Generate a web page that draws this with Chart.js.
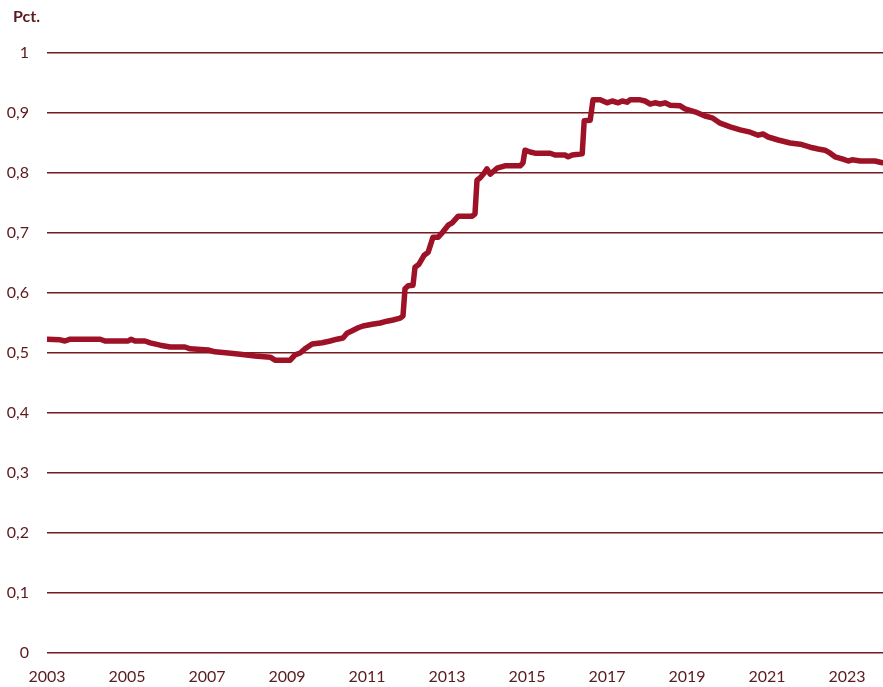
<!DOCTYPE html>
<html>
<head>
<meta charset="utf-8">
<script src="https://cdn.jsdelivr.net/npm/chart.js@4"></script>
<style>
  html, body { margin: 0; padding: 0; background: #fff; }
  #wrap { width: 883px; height: 687px; position: relative; }
</style>
</head>
<body>
<div id="wrap"><canvas id="chart"></canvas></div>
<script>
// Tid (decimalår) og andel (pct. som brøk)
const years = [
  2003.00, 2003.33, 2003.45, 2003.58, 2004.33, 2004.45, 2005.03, 2005.10, 2005.20, 2005.45,
  2005.58, 2005.83, 2006.08, 2006.45, 2006.58, 2007.03, 2007.20, 2007.53, 2007.83, 2008.20,
  2008.58, 2008.70, 2009.08, 2009.20, 2009.33, 2009.45, 2009.63, 2009.88, 2010.08, 2010.25,
  2010.40, 2010.50, 2010.63, 2010.78, 2010.90, 2011.13, 2011.33, 2011.50, 2011.65, 2011.83,
  2011.90, 2011.95, 2012.03, 2012.15, 2012.20, 2012.30, 2012.43, 2012.53, 2012.65, 2012.78,
  2012.90, 2013.03, 2013.13, 2013.28, 2013.63, 2013.70, 2013.75, 2013.83, 2013.93, 2014.00,
  2014.08, 2014.25, 2014.45, 2014.83, 2014.90, 2014.95, 2015.08, 2015.20, 2015.58, 2015.70,
  2015.95, 2016.03, 2016.13, 2016.38, 2016.43, 2016.58, 2016.65, 2016.83, 2017.00, 2017.13,
  2017.28, 2017.38, 2017.50, 2017.58, 2017.83, 2017.95, 2018.08, 2018.20, 2018.33, 2018.45,
  2018.58, 2018.83, 2018.95, 2019.20, 2019.45, 2019.63, 2019.83, 2020.08, 2020.33, 2020.58,
  2020.78, 2020.90, 2021.03, 2021.28, 2021.58, 2021.83, 2022.08, 2022.28, 2022.45, 2022.58,
  2022.70, 2022.90, 2023.03, 2023.13, 2023.33, 2023.70, 2023.83, 2023.90
];
const pct = [
  0.523, 0.522, 0.520, 0.523, 0.523, 0.520, 0.520, 0.523, 0.520, 0.520,
  0.517, 0.513, 0.510, 0.510, 0.507, 0.505, 0.502, 0.500, 0.498, 0.495,
  0.493, 0.488, 0.488, 0.497, 0.500, 0.507, 0.515, 0.517, 0.520, 0.523,
  0.525, 0.533, 0.537, 0.542, 0.545, 0.548, 0.550, 0.553, 0.555, 0.558,
  0.562, 0.607, 0.612, 0.613, 0.643, 0.648, 0.663, 0.668, 0.693, 0.693,
  0.702, 0.713, 0.717, 0.728, 0.728, 0.732, 0.788, 0.792, 0.800, 0.807,
  0.798, 0.808, 0.812, 0.812, 0.817, 0.838, 0.835, 0.833, 0.833, 0.830,
  0.830, 0.827, 0.830, 0.832, 0.887, 0.888, 0.922, 0.922, 0.917, 0.920,
  0.917, 0.920, 0.918, 0.922, 0.922, 0.920, 0.915, 0.917, 0.915, 0.917,
  0.913, 0.912, 0.907, 0.902, 0.895, 0.892, 0.883, 0.877, 0.872, 0.868,
  0.863, 0.865, 0.860, 0.855, 0.850, 0.848, 0.843, 0.840, 0.838, 0.833,
  0.827, 0.823, 0.820, 0.822, 0.820, 0.820, 0.818, 0.817
];
const xTicks = [2003, 2005, 2007, 2009, 2011, 2013, 2015, 2017, 2019, 2021, 2023];
const yTicks = [0, 0.1, 0.2, 0.3, 0.4, 0.5, 0.6, 0.7, 0.8, 0.9, 1];

const textCol = '#5b1a1e';
const gridCol = '#761b20';
const lineCol = '#9d1226';
const fontFam = 'Lato, "Open Sans", sans-serif';

// "Pct." øverst til venstre
const unitLabel = {
  id: 'unitLabel',
  afterDraw(chart) {
    const c = chart.ctx;
    c.save();
    c.fillStyle = textCol;
    c.font = 'bold 16px ' + fontFam;
    c.textBaseline = 'middle';
    c.textAlign = 'left';
    c.fillText('Pct.', 13, 17);
    c.restore();
  }
};

new Chart(document.getElementById('chart'), {
  type: 'line',
  data: {
    datasets: [{
      data: years.map((y, i) => ({ x: y, y: pct[i] })),
      borderColor: lineCol,
      borderWidth: 5.5,
      pointRadius: 0,
      tension: 0,
      borderJoinStyle: 'round',
      borderCapStyle: 'round'
    }]
  },
  options: {
    responsive: true,
    maintainAspectRatio: false,
    animation: false,
    layout: { padding: { top: 53, right: 0, left: 0, bottom: 0 } },
    plugins: { legend: { display: false }, tooltip: { enabled: false } },
    scales: {
      x: {
        type: 'linear',
        min: 2003,
        max: 2023.9,
        afterBuildTicks: s => { s.ticks = xTicks.map(v => ({ value: v })); },
        afterFit: s => { s.height = 34; },
        grid: { display: false, drawTicks: false },
        border: { display: false },
        ticks: {
          color: textCol,
          font: { family: fontFam, size: 16 },
          padding: 14,
          maxRotation: 0,
          autoSkip: false,
          callback: v => String(v)
        }
      },
      y: {
        min: 0,
        max: 1,
        afterBuildTicks: s => { s.ticks = yTicks.map(v => ({ value: v })); },
        afterFit: s => { s.width = 47; },
        grid: { color: gridCol, lineWidth: 1.5, drawTicks: false },
        border: { display: false },
        ticks: {
          color: textCol,
          font: { family: fontFam, size: 16 },
          padding: 18,
          callback: v => String(Math.round(v * 10) / 10).replace('.', ',')
        }
      }
    }
  },
  plugins: [unitLabel]
});
</script>
</body>
</html>
